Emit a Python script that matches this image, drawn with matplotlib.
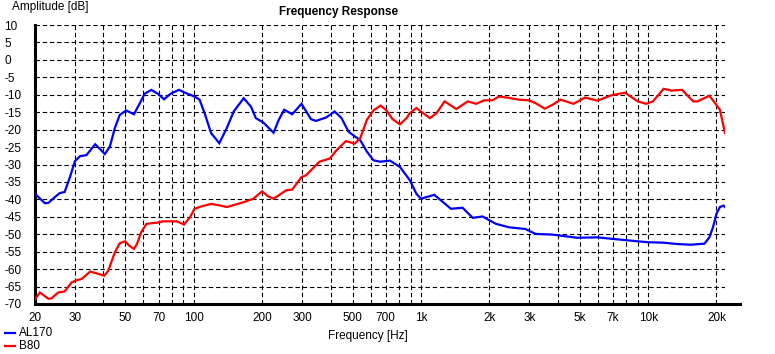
import matplotlib.pyplot as plt
import matplotlib.lines as mlines

plt.rcParams['font.family'] = ['Liberation Sans', 'DejaVu Sans']
plt.rcParams['font.size'] = 8.5

# AL170 (blue)
al170_freq = [20, 22.1, 22.9, 24.5, 25.7, 27.0, 28.5, 30, 31.6, 33.7, 36.8, 40.6, 42.7, 44.9,
              47.2, 50.4, 54.5, 57.9, 60.8, 65, 69.4, 74, 79.1, 86, 92.1, 100.7, 106, 111.6,
              119.2, 129.5, 139.6, 149.9, 165.8, 178.5, 187.5, 202.7, 224.4, 236.6, 250, 271,
              298, 328, 345, 383, 417, 447, 480, 513, 540, 578, 618, 660, 731, 808, 893, 955,
              1000, 1145, 1225, 1355, 1525, 1690, 1866, 2134, 2438, 2880, 3196, 3791, 4855,
              5995, 6895, 8600, 10000, 11600, 13400, 15400, 17700, 18600, 19300, 20000, 20700,
              21500, 21800]
al170_db = [-38.4, -41.1, -41, -39.3, -38.2, -37.9, -33.6, -29, -27.6, -27.3, -24.2, -27, -24.9, -19.6,
            -15.8, -14.5, -15.6, -12.4, -9.7, -8.6, -9.7, -11.3, -9.7, -8.6, -9.5, -10.5, -11.4, -15.3,
            -21, -23.9, -19.6, -14.8, -11, -13.4, -16.7, -18, -20.9, -17.2, -14.3, -15.6,
            -12.6, -17, -17.5, -16.5, -14.8, -16.7, -20.6, -22, -23, -26.3, -28.8, -29.2, -28.9, -30.7, -34.5, -38.4,
            -39.8, -38.7, -40.3, -42.7, -42.4, -45.3, -44.9, -47, -48, -48.5, -49.9, -50.1, -51,
            -50.9, -51.3, -51.9, -52.3, -52.4, -52.8, -53, -52.7, -50.9, -48, -44.1, -42.2,
            -41.8, -42.2]

# B80 (red)
b80_freq = [20, 21, 22.9, 23.6, 25.3, 27, 29, 30.5, 32.1, 35, 37.3, 40.3, 42, 44.9, 47.2, 49.9,
            52, 54.5, 56.2, 58.7, 61.9, 68.6, 73.3, 84.2, 90.6, 96.3, 100.7, 108.2, 119.2, 129.5,
            139.6, 152.5, 165.8, 182.9, 200, 212, 224.6, 255, 271, 298, 312, 357, 397, 425, 467,
            511, 540, 578, 618, 664, 700, 750, 808, 864, 893, 955, 1023, 1095, 1170, 1271, 1430,
            1608, 1751, 1897, 2062, 2207, 2438, 2692, 2986, 3196, 3507, 3791, 4112, 4693, 5273,
            5995, 6845, 7900, 9000, 9800, 10500, 11700, 12700, 14100, 15800, 16500, 18600, 19300,
            20700, 21800]
b80_db = [-68.7, -66.7, -68.5, -68.4, -66.7, -66.4, -63.8, -63.2, -62.8, -60.7, -61.2, -61.9, -60.5, -55.2, -52.6, -52,
          -53.3, -54.2, -52.8, -49.4, -47, -46.7, -46.3, -46.3, -47.2, -45.1, -42.7, -42, -41.3, -41.7,
          -42.2, -41.5, -40.8, -39.8, -37.7, -39.1, -39.8, -37.4, -37.2, -33.6, -33.1, -29.2, -28.3, -25.9, -23.3,
          -24, -22.5, -17.2, -14.5, -13.1, -14.3, -17, -18.5, -16.7, -15.3, -13.8, -15.3, -16.7, -15.3, -11.9, -14.1,
          -11.9, -12.6, -11.6, -11.6, -10.5, -10.9, -11.4, -11.6, -12.4, -14, -12.9, -11.4, -12.6, -10.8,
          -11.7, -10.2, -9.4, -11.9, -12.6, -11.9, -8.3, -8.8, -8.6, -11.9, -11.9, -10.3, -11.6,
          -14.3, -21]

grid_freqs = [20, 30, 40, 50, 60, 70, 80, 90, 100, 200, 300, 400, 500, 600, 700, 800, 900,
              1000, 2000, 3000, 4000, 5000, 6000, 7000, 8000, 9000, 10000, 20000]
tick_text = {20: '20', 30: '30', 50: '50', 70: '70', 100: '100', 200: '200', 300: '300',
             500: '500', 700: '700', 1000: '1k', 2000: '2k', 3000: '3k', 5000: '5k',
             7000: '7k', 10000: '10k', 20000: '20k'}
db_ticks = list(range(10, -75, -5))

fig = plt.figure(figsize=(7.75, 3.54), dpi=100)
W, H = 775, 354
ax = fig.add_axes([35 / W, (H - 304) / H, 690 / W, 279 / H])

ax.plot(al170_freq, al170_db, color='#0000ff', lw=1.6, solid_joinstyle='miter', zorder=3)
ax.plot(b80_freq, b80_db, color='#ff0000', lw=1.6, solid_joinstyle='miter', zorder=3)

ax.set_xscale('log')
ax.set_xlim(20, 21800)
ax.set_ylim(-70, 10)
ax.set_xticks(grid_freqs)
ax.set_xticklabels([tick_text.get(f, '') for f in grid_freqs])
ax.xaxis.set_minor_locator(plt.NullLocator())
ax.set_yticks(db_ticks)
ax.set_yticklabels([str(v) for v in db_ticks])

ax.grid(True, color='black', lw=0.8, linestyle=(0, (4, 2.5)))
ax.tick_params(length=0)
ax.tick_params(axis='x', pad=6)
ax.tick_params(axis='y', pad=22)
for lab in ax.get_yticklabels():
    lab.set_ha('left')

for s in ['top', 'right']:
    ax.spines[s].set_visible(False)
ax.spines['left'].set_linewidth(2.2)
ax.spines['bottom'].set_linewidth(2.2)
# bottom axis line runs a little past the plot area
ax.add_line(mlines.Line2D([1.0, 1.0 + 15 / 690], [0, 0], transform=ax.transAxes,
                          color='black', lw=2.2, clip_on=False))

fig.text(339 / W, 1 - 12 / H, 'Frequency Response', ha='center', va='center', fontweight='bold')
fig.text(12 / W, 1 - 7 / H, 'Amplitude [dB]', ha='left', va='center')
fig.text(368 / W, 1 - 336 / H, 'Frequency [Hz]', ha='center', va='center')

# legend in lower left corner
for name, col, yy in [('AL170', '#0000ff', 333), ('B80', '#ff0000', 346)]:
    fig.add_artist(mlines.Line2D([5 / W, 15 / W], [1 - yy / H, 1 - yy / H], color=col, lw=1.6))
    fig.text(19 / W, 1 - yy / H, name, ha='left', va='center')

fig.savefig('out.png', dpi=100, facecolor='white')
